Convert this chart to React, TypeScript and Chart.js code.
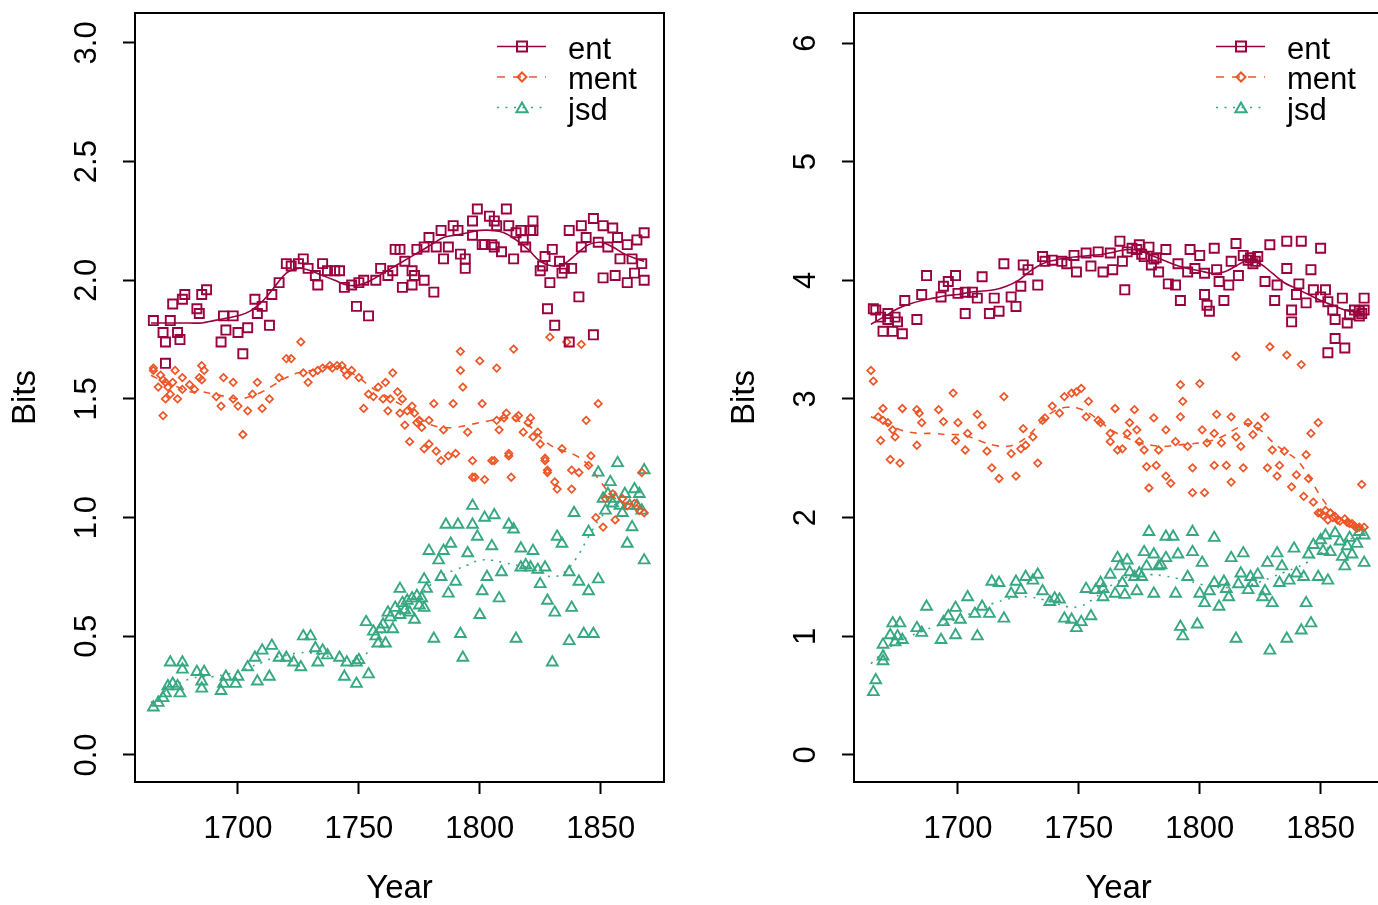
import React, { useEffect, useRef } from 'react';
import { Chart, registerables } from 'chart.js';

Chart.register(...registerables);

const FONT = "'Liberation Sans', Arial, Helvetica, sans-serif";

// ---- series styling ----
const SERIES = ['ent', 'ment', 'jsd'];
const SERIES_COLORS = ['#99013F', '#EE5526', '#36A882'];
const POINT_STYLES = ['rect', 'rectRot', 'triangle'];
const POINT_RADII = [6.4, 3.7, 6.2];
const LINE_DASHES = [[], [7, 7], [2, 6.5]];
const LEGEND_DASHES = [[], [8, 8], [2, 6.5]];

// ---- axes ----
const X_TICKS = [1700, 1750, 1800, 1850];
const LEFT_Y_TICKS = [0, 0.5, 1, 1.5, 2, 2.5, 3];
const RIGHT_Y_TICKS = [0, 1, 2, 3, 4, 5, 6];

type Pair = [number, number];

// ---- left panel points (year, bits) ----
const LEFT_ENT: Pair[] = [
  [1665,1.83],[1669,1.78],[1670,1.74],[1670,1.65],[1672,1.83],[1673,1.90],[1675,1.78],[1676,1.75],[1677,1.92],[1678,1.94],
  [1683,1.88],[1684,1.86],[1685,1.94],[1687,1.96],[1693,1.74],[1694,1.85],[1695,1.79],[1698,1.85],[1700,1.78],[1702,1.69],
  [1704,1.80],[1707,1.92],[1708,1.86],[1710,1.89],[1713,1.81],[1714,1.94],[1717,1.99],[1720,2.07],[1722,2.06],[1725,2.07],
  [1727,2.09],[1729,2.05],[1732,2.02],[1733,1.98],[1735,2.07],[1737,2.04],[1740,2.04],[1742,2.04],[1744,1.97],[1747,1.98],
  [1749,1.89],[1750,1.99],[1752,2.00],[1754,1.85],[1757,2.00],[1759,2.05],[1762,2.02],[1764,2.04],[1765,2.13],[1767,2.13],
  [1768,1.97],[1769,2.08],[1772,1.98],[1772,2.04],[1773,2.02],[1774,2.13],[1777,2.14],[1777,2.00],[1779,2.18],[1781,1.95],
  [1782,2.14],[1784,2.21],[1785,2.09],[1787,2.14],[1789,2.23],[1791,2.21],[1792,2.11],[1794,2.05],[1794,2.09],[1797,2.25],
  [1797,2.19],[1799,2.30],[1801,2.15],[1802,2.15],[1804,2.27],[1805,2.15],[1806,2.25],[1806,2.14],[1807,2.23],[1809,2.12],
  [1811,2.30],[1812,2.23],[1814,2.09],[1815,2.20],[1817,2.21],[1818,2.17],[1819,2.14],[1821,2.21],[1822,2.25],[1822,2.21],
  [1825,2.04],[1826,2.06],[1827,2.10],[1828,1.88],[1829,1.99],[1830,2.13],[1831,1.81],[1833,2.08],[1834,2.03],[1835,2.05],
  [1837,2.21],[1837,1.74],[1838,2.05],[1841,1.93],[1842,2.14],[1842,2.23],[1844,2.18],[1847,1.77],[1847,2.26],[1849,2.16],
  [1851,2.23],[1851,2.01],[1853,2.14],[1855,2.22],[1856,2.02],[1857,2.18],[1858,2.09],[1861,2.15],[1861,1.99],[1863,2.09],
  [1864,2.03],[1865,2.17],[1867,2.07],[1868,2.00],[1868,2.20],
];
const LEFT_MENT: Pair[] = [
  [1665,1.63],[1665,1.62],[1667,1.55],[1668,1.60],[1669,1.58],[1670,1.57],[1670,1.50],[1669,1.43],[1671,1.55],[1672,1.52],
  [1673,1.57],[1674,1.62],[1675,1.50],[1677,1.59],[1677,1.54],[1680,1.56],[1682,1.54],[1684,1.59],[1685,1.64],[1686,1.62],
  [1685,1.58],[1691,1.51],[1693,1.47],[1694,1.59],[1698,1.57],[1698,1.50],[1700,1.47],[1702,1.35],[1704,1.45],[1706,1.52],
  [1708,1.57],[1710,1.46],[1713,1.50],[1717,1.59],[1720,1.67],[1722,1.67],[1726,1.74],[1727,1.61],[1729,1.57],[1731,1.61],
  [1733,1.62],[1735,1.63],[1738,1.64],[1739,1.63],[1741,1.64],[1743,1.64],[1744,1.62],[1745,1.60],[1747,1.62],[1750,1.59],
  [1752,1.46],[1754,1.52],[1756,1.51],[1758,1.55],[1760,1.50],[1761,1.57],[1762,1.45],[1764,1.61],[1763,1.50],[1766,1.53],
  [1767,1.44],[1768,1.50],[1769,1.39],[1770,1.45],[1771,1.32],[1772,1.47],[1773,1.44],[1774,1.40],[1775,1.41],[1776,1.38],
  [1777,1.29],[1779,1.41],[1779,1.31],[1781,1.48],[1782,1.28],[1784,1.24],[1785,1.37],[1787,1.26],[1789,1.48],[1790,1.27],
  [1792,1.70],[1792,1.62],[1793,1.55],[1795,1.36],[1797,1.24],[1797,1.17],[1798,1.17],[1800,1.66],[1801,1.48],[1802,1.16],
  [1805,1.24],[1806,1.24],[1807,1.41],[1807,1.63],[1808,1.37],[1810,1.42],[1811,1.44],[1812,1.27],[1812,1.26],[1813,1.17],
  [1814,1.71],[1815,1.42],[1816,1.43],[1818,1.36],[1820,1.40],[1821,1.42],[1822,1.34],[1824,1.36],[1825,1.31],[1827,1.25],
  [1827,1.24],[1828,1.19],[1828,1.20],[1829,1.76],[1831,1.15],[1832,1.12],[1834,1.29],[1836,1.74],[1838,1.20],[1838,1.12],
  [1841,1.19],[1842,1.73],[1844,1.41],[1845,1.22],[1846,1.26],[1848,1.00],[1849,1.48],[1851,0.96],[1852,1.08],[1855,1.10],
  [1856,0.99],[1859,1.08],[1861,1.05],[1864,1.06],[1866,1.03],[1867,1.19],[1868,1.02],
];
const LEFT_JSD: Pair[] = [
  [1665,0.20],[1667,0.22],[1669,0.24],[1670,0.26],[1671,0.29],[1672,0.39],[1673,0.30],[1675,0.29],[1677,0.39],[1677,0.36],
  [1676,0.26],[1683,0.35],[1685,0.28],[1686,0.35],[1685,0.31],[1693,0.27],[1694,0.30],[1695,0.33],[1699,0.30],[1700,0.33],
  [1704,0.37],[1707,0.41],[1708,0.31],[1710,0.44],[1713,0.33],[1714,0.46],[1717,0.41],[1720,0.41],[1723,0.39],[1726,0.37],
  [1727,0.50],[1730,0.50],[1732,0.45],[1733,0.39],[1735,0.44],[1737,0.42],[1742,0.41],[1744,0.33],[1745,0.39],[1749,0.39],
  [1749,0.30],[1750,0.40],[1754,0.34],[1753,0.56],[1756,0.52],[1757,0.50],[1758,0.47],[1759,0.53],[1760,0.55],[1761,0.47],
  [1762,0.60],[1763,0.58],[1764,0.53],[1765,0.62],[1767,0.70],[1767,0.59],[1768,0.64],[1769,0.61],[1770,0.65],[1771,0.60],
  [1772,0.66],[1773,0.57],[1774,0.67],[1775,0.63],[1776,0.66],[1777,0.62],[1777,0.74],[1778,0.70],[1779,0.86],[1781,0.49],
  [1783,0.82],[1784,0.75],[1785,0.86],[1786,0.97],[1787,0.68],[1788,0.89],[1790,0.73],[1791,0.97],[1792,0.51],[1793,0.41],
  [1795,0.85],[1797,1.05],[1797,0.97],[1799,0.92],[1800,0.59],[1801,0.69],[1803,0.75],[1802,1.00],[1806,1.01],[1805,0.88],
  [1808,0.66],[1809,0.77],[1812,0.97],[1814,0.95],[1815,0.49],[1817,0.79],[1817,0.87],[1819,0.80],[1821,0.79],[1822,0.86],
  [1824,0.78],[1825,0.72],[1827,0.79],[1828,0.65],[1830,0.39],[1831,0.60],[1832,0.92],[1834,0.89],[1837,0.77],[1837,0.48],
  [1838,0.62],[1839,1.02],[1841,0.73],[1843,0.51],[1845,0.94],[1847,0.51],[1845,0.69],[1849,0.74],[1849,1.19],[1851,1.08],
  [1852,1.03],[1853,1.10],[1854,1.15],[1855,1.06],[1856,1.08],[1857,1.23],[1858,1.05],[1859,1.02],[1860,1.10],[1861,0.89],
  [1862,1.05],[1863,0.96],[1864,1.12],[1865,1.05],[1866,1.10],[1867,1.03],[1868,0.82],[1868,1.20],
];

// ---- right panel points (year, bits) ----
const RIGHT_ENT: Pair[] = [
  [1665,3.76],[1666,3.75],[1668,3.69],[1669,3.57],[1671,3.67],[1671,3.72],[1673,3.57],[1674,3.69],[1675,3.65],[1677,3.55],
  [1678,3.83],[1683,3.67],[1685,3.88],[1687,4.04],[1693,3.86],[1694,3.95],[1696,3.99],[1699,4.04],[1700,3.89],[1703,3.72],
  [1703,3.90],[1706,3.90],[1708,3.85],[1710,4.03],[1713,3.72],[1715,3.85],[1717,3.74],[1719,4.14],[1722,3.86],[1724,3.78],
  [1726,3.95],[1727,4.13],[1729,4.09],[1733,3.96],[1735,4.20],[1736,4.16],[1739,4.17],[1743,4.16],[1745,4.14],[1748,4.21],
  [1749,4.07],[1753,4.23],[1755,4.12],[1758,4.24],[1760,4.07],[1763,4.23],[1764,4.09],[1767,4.33],[1769,3.92],[1768,4.16],
  [1770,4.24],[1772,4.27],[1774,4.26],[1775,4.30],[1776,4.22],[1777,4.20],[1779,4.28],[1780,4.13],[1781,4.18],[1782,4.19],
  [1783,4.07],[1786,4.26],[1787,3.97],[1790,3.96],[1791,4.14],[1792,3.83],[1795,4.07],[1796,4.26],[1798,4.10],[1800,4.21],
  [1802,4.06],[1802,3.88],[1803,3.79],[1804,3.74],[1806,4.27],[1807,4.09],[1808,3.99],[1810,3.83],[1812,3.96],[1813,4.16],
  [1815,4.31],[1816,4.04],[1818,4.21],[1820,4.17],[1821,4.19],[1822,4.14],[1823,4.16],[1824,4.20],[1827,3.99],[1829,4.30],
  [1831,3.83],[1832,3.96],[1836,4.10],[1836,4.33],[1838,3.65],[1838,3.75],[1842,4.33],[1840,3.88],[1841,3.97],[1844,3.81],
  [1846,4.09],[1847,3.92],[1850,3.86],[1850,4.27],[1852,3.92],[1853,3.82],[1855,3.75],[1856,3.67],[1856,3.51],[1853,3.39],
  [1859,3.85],[1860,3.43],[1861,3.64],[1862,3.71],[1864,3.75],[1866,3.74],[1866,3.70],[1867,3.72],[1868,3.85],[1868,3.75],
];
const RIGHT_MENT: Pair[] = [
  [1664,3.24],[1665,3.15],[1669,2.92],[1667,2.85],[1669,2.82],[1671,2.80],[1673,2.74],[1674,2.68],[1668,2.65],[1672,2.49],
  [1676,2.46],[1677,2.92],[1683,2.91],[1684,2.88],[1683,2.61],[1685,2.80],[1692,2.91],[1694,2.81],[1698,3.05],[1699,2.65],
  [1700,2.80],[1703,2.57],[1704,2.71],[1708,2.87],[1710,2.78],[1712,2.56],[1714,2.42],[1717,2.33],[1719,3.02],[1722,2.54],
  [1724,2.35],[1726,2.58],[1727,2.75],[1728,2.61],[1731,2.68],[1733,2.46],[1735,2.82],[1736,2.84],[1739,2.94],[1742,2.88],
  [1744,3.02],[1747,3.05],[1749,3.06],[1751,3.09],[1753,2.85],[1754,2.98],[1758,2.82],[1759,2.80],[1763,2.71],[1763,2.64],
  [1765,2.92],[1766,2.57],[1768,2.58],[1770,2.71],[1771,2.80],[1773,2.91],[1774,2.74],[1775,2.64],[1777,2.57],[1778,2.43],
  [1779,2.25],[1781,2.84],[1782,2.44],[1783,2.57],[1786,2.35],[1786,2.74],[1788,2.29],[1790,2.64],[1792,2.85],[1792,3.12],
  [1793,2.98],[1795,2.60],[1797,2.42],[1797,2.21],[1800,3.13],[1801,2.74],[1802,2.21],[1803,2.63],[1806,2.44],[1806,2.71],
  [1807,2.87],[1809,2.63],[1811,2.44],[1813,2.30],[1813,2.85],[1815,3.36],[1815,2.68],[1817,2.60],[1818,2.42],[1820,2.80],
  [1822,2.70],[1824,2.77],[1827,2.85],[1828,2.42],[1829,3.44],[1830,2.57],[1832,2.35],[1833,2.44],[1835,2.56],[1836,3.37],
  [1838,2.26],[1840,2.36],[1842,3.29],[1843,2.18],[1844,2.53],[1845,2.33],[1846,2.71],[1847,2.13],[1849,2.80],[1849,2.04],
  [1850,2.04],[1851,2.02],[1852,2.06],[1853,1.98],[1854,2.04],[1855,2.00],[1856,2.01],[1857,1.98],[1858,1.97],[1860,1.99],
  [1861,1.96],[1862,1.95],[1863,1.95],[1864,1.93],[1865,1.91],[1866,1.92],[1867,2.28],[1868,1.92],
];
const RIGHT_JSD: Pair[] = [
  [1665,0.53],[1666,0.63],[1669,0.79],[1669,0.83],[1669,0.93],[1672,1.01],[1674,0.95],[1673,1.11],[1676,1.11],[1675,1.00],
  [1677,0.97],[1683,1.07],[1685,1.03],[1687,1.25],[1693,0.97],[1694,1.12],[1696,1.17],[1699,1.01],[1699,1.24],[1701,1.14],
  [1704,1.33],[1707,1.19],[1708,1.00],[1710,1.25],[1713,1.19],[1714,1.46],[1717,1.45],[1719,1.15],[1722,1.36],[1724,1.46],
  [1726,1.39],[1728,1.50],[1731,1.47],[1733,1.52],[1735,1.38],[1738,1.29],[1740,1.32],[1742,1.31],[1744,1.15],[1747,1.14],
  [1749,1.07],[1751,1.12],[1755,1.17],[1753,1.40],[1757,1.39],[1759,1.45],[1760,1.33],[1760,1.40],[1763,1.52],[1765,1.36],
  [1766,1.66],[1767,1.59],[1768,1.45],[1769,1.35],[1770,1.64],[1771,1.54],[1773,1.50],[1774,1.38],[1775,1.53],[1776,1.50],
  [1777,1.71],[1778,1.59],[1779,1.88],[1781,1.36],[1781,1.69],[1783,1.59],[1784,1.60],[1786,1.84],[1786,1.66],[1789,1.84],
  [1790,1.36],[1791,1.69],[1792,1.08],[1793,1.00],[1795,1.50],[1797,1.71],[1797,1.88],[1799,1.10],[1800,1.36],[1801,1.62],
  [1802,1.28],[1804,1.38],[1806,1.83],[1806,1.45],[1808,1.25],[1810,1.46],[1811,1.40],[1812,1.33],[1813,1.66],[1815,0.98],
  [1816,1.44],[1817,1.53],[1818,1.70],[1820,1.39],[1821,1.50],[1822,1.45],[1824,1.52],[1826,1.33],[1827,1.38],[1828,1.62],
  [1829,0.88],[1830,1.28],[1832,1.70],[1833,1.45],[1834,1.59],[1836,0.98],[1837,1.47],[1839,1.74],[1840,1.53],[1842,1.05],
  [1843,1.50],[1844,1.28],[1846,1.11],[1845,1.69],[1847,1.77],[1849,1.50],[1850,1.81],[1851,1.72],[1853,1.47],[1852,1.85],
  [1854,1.71],[1856,1.87],[1858,1.80],[1859,1.67],[1860,1.59],[1861,1.76],[1862,1.83],[1863,1.69],[1865,1.78],[1866,1.88],
  [1868,1.62],[1868,1.85],
];

// ---- smoothed trend lines, read at these years ----
const LINE_YEARS = [1664,1670,1675,1680,1685,1690,1695,1700,1705,1710,1715,1720,1725,1730,1735,1740,1745,1750,1755,1760,
  1765,1770,1775,1780,1785,1790,1795,1800,1805,1810,1815,1820,1825,1830,1835,1840,1845,1850,1855,1860,1865,1868];
const LEFT_ENT_LINE = [1.82,1.82,1.82,1.82,1.82,1.83,1.84,1.85,1.87,1.91,1.97,2.03,2.05,2.04,2.02,2.00,1.98,1.98,2.00,2.03,
  2.06,2.09,2.12,2.15,2.18,2.19,2.20,2.21,2.21,2.20,2.17,2.13,2.08,2.06,2.07,2.11,2.15,2.16,2.14,2.11,2.09,2.08];
const LEFT_MENT_LINE = [1.60,1.57,1.55,1.53,1.53,1.52,1.51,1.50,1.51,1.53,1.56,1.59,1.61,1.62,1.63,1.64,1.62,1.59,1.55,1.52,
  1.49,1.46,1.42,1.39,1.38,1.38,1.39,1.40,1.41,1.42,1.41,1.39,1.34,1.30,1.28,1.26,1.22,1.15,1.09,1.06,1.05,1.04];
const LEFT_JSD_LINE = [0.22,0.27,0.30,0.32,0.33,0.33,0.34,0.35,0.37,0.39,0.41,0.42,0.43,0.43,0.42,0.41,0.40,0.40,0.45,0.52,
  0.57,0.62,0.67,0.72,0.76,0.78,0.80,0.82,0.82,0.81,0.80,0.79,0.77,0.75,0.77,0.83,0.92,1.00,1.05,1.06,1.05,1.05];
const RIGHT_ENT_LINE = [3.63,3.70,3.76,3.80,3.83,3.85,3.87,3.88,3.90,3.91,3.92,3.95,4.00,4.08,4.14,4.17,4.19,4.20,4.21,4.22,
  4.24,4.26,4.25,4.21,4.17,4.13,4.10,4.08,4.06,4.07,4.12,4.17,4.14,4.06,3.98,3.93,3.88,3.83,3.79,3.75,3.73,3.72];
const RIGHT_MENT_LINE = [2.85,2.80,2.75,2.72,2.71,2.71,2.70,2.70,2.68,2.64,2.61,2.60,2.63,2.71,2.82,2.90,2.93,2.92,2.87,2.79,
  2.72,2.67,2.63,2.61,2.60,2.61,2.62,2.63,2.65,2.69,2.75,2.79,2.74,2.64,2.56,2.49,2.35,2.18,2.05,1.97,1.93,1.91];
const RIGHT_JSD_LINE = [0.77,0.88,0.95,1.00,1.04,1.08,1.11,1.15,1.19,1.24,1.28,1.31,1.33,1.33,1.31,1.28,1.25,1.25,1.30,1.38,
  1.45,1.50,1.52,1.52,1.51,1.49,1.47,1.44,1.42,1.41,1.42,1.43,1.46,1.50,1.54,1.58,1.63,1.70,1.77,1.81,1.83,1.84];

// ---- frame (box) + R-style legend inside plot area ----
function drawMarker(ctx: CanvasRenderingContext2D, style: string, x: number, y: number, r: number) {
  ctx.beginPath();
  if (style === 'rect') {
    ctx.rect(x - r, y - r, 2 * r, 2 * r);
  } else if (style === 'rectRot') {
    ctx.moveTo(x - r, y);
    ctx.lineTo(x, y - r);
    ctx.lineTo(x + r, y);
    ctx.lineTo(x, y + r);
    ctx.closePath();
  } else {
    for (let k = 0; k < 3; k++) {
      const a = (k * 2 * Math.PI) / 3;
      const px = x + Math.sin(a) * r;
      const py = y - Math.cos(a) * r;
      if (k === 0) ctx.moveTo(px, py);
      else ctx.lineTo(px, py);
    }
    ctx.closePath();
  }
  ctx.stroke();
}

const frameLegendPlugin = {
  id: 'frameLegend',
  afterDraw(chart: any) {
    const { ctx, chartArea: a } = chart;
    ctx.save();
    ctx.strokeStyle = '#000';
    ctx.lineWidth = 2;
    ctx.setLineDash([]);
    ctx.strokeRect(a.left, a.top, a.right - a.left, a.bottom - a.top);

    const legendMarkerR = [5, 4.5, 6.5];
    SERIES.forEach((label, i) => {
      const cy = a.top + 33.5 + i * 30.5;
      ctx.strokeStyle = SERIES_COLORS[i];
      ctx.lineWidth = 1.7;
      ctx.setLineDash(LEGEND_DASHES[i]);
      ctx.beginPath();
      ctx.moveTo(a.right - 167, cy);
      ctx.lineTo(a.right - 118, cy);
      ctx.stroke();
      ctx.setLineDash([]);
      ctx.lineWidth = 2;
      const my = POINT_STYLES[i] === 'triangle' ? cy + 1.5 : cy;
      drawMarker(ctx, POINT_STYLES[i], a.right - 142, my, legendMarkerR[i]);
      ctx.fillStyle = '#000';
      ctx.font = `31px ${FONT}`;
      ctx.textAlign = 'left';
      ctx.textBaseline = 'alphabetic';
      ctx.fillText(label, a.right - 96, cy + 12);
    });
    ctx.restore();
  },
};

interface PanelSpec {
  points: Pair[][];
  lines: number[][];
  yTicks: number[];
  yMin: number;
  yMax: number;
  xMin: number;
  xMax: number;
  decimals: number;
  yTickPadding: number;
}

function buildConfig(spec: PanelSpec): any {
  const scatterSets = spec.points.map((pairs, i) => ({
    label: SERIES[i],
    data: pairs.map(([x, y]) => ({ x, y })),
    showLine: false,
    pointStyle: POINT_STYLES[i],
    pointRadius: POINT_RADII[i],
    pointBorderWidth: i === 1 ? 1.7 : 1.9,
    pointBorderColor: SERIES_COLORS[i],
    pointBackgroundColor: 'rgba(0,0,0,0)',
    borderColor: SERIES_COLORS[i],
  }));
  const lineSets = spec.lines.map((vals, i) => ({
    label: SERIES[i] + ' trend',
    data: LINE_YEARS.map((x, k) => ({ x, y: vals[k] })),
    showLine: true,
    pointRadius: 0,
    borderColor: SERIES_COLORS[i],
    borderWidth: 1.6,
    borderDash: LINE_DASHES[i],
    tension: 0.4,
    fill: false,
  }));
  const tickFont = { family: FONT, size: 31, lineHeight: 1.2 };
  const titleFont = { family: FONT, size: 33, lineHeight: 1 };
  const gridOpts = {
    display: true,
    drawOnChartArea: false,
    drawTicks: true,
    tickLength: 12,
    tickWidth: 2,
    tickColor: '#000',
  };
  return {
    type: 'scatter',
    data: { datasets: [...scatterSets, ...lineSets] },
    plugins: [frameLegendPlugin],
    options: {
      responsive: false,
      animation: false,
      devicePixelRatio: 1,
      events: [],
      layout: { padding: { left: 0, top: 13, right: 36, bottom: 0 } },
      plugins: { legend: { display: false }, tooltip: { enabled: false } },
      scales: {
        x: {
          type: 'linear',
          min: spec.xMin,
          max: spec.xMax,
          afterBuildTicks: (s: any) => {
            s.ticks = X_TICKS.map((v) => ({ value: v }));
          },
          afterFit: (s: any) => {
            s.height = 123;
            s.paddingLeft = 0;
            s.paddingRight = 0;
          },
          grid: gridOpts,
          border: { display: false },
          ticks: {
            autoSkip: false,
            minRotation: 0,
            maxRotation: 0,
            padding: 17,
            color: '#000',
            font: tickFont,
            callback: (v: number) => String(v),
          },
          title: {
            display: true,
            text: 'Year',
            color: '#000',
            font: titleFont,
            padding: { top: 0, bottom: 0 },
          },
        },
        y: {
          type: 'linear',
          min: spec.yMin,
          max: spec.yMax,
          afterBuildTicks: (s: any) => {
            s.ticks = spec.yTicks.map((v) => ({ value: v }));
          },
          afterFit: (s: any) => {
            s.width = 135;
            s.paddingTop = 0;
            s.paddingBottom = 0;
          },
          grid: gridOpts,
          border: { display: false },
          ticks: {
            autoSkip: false,
            minRotation: 90,
            maxRotation: 90,
            crossAlign: 'center',
            padding: spec.yTickPadding,
            color: '#000',
            font: tickFont,
            callback: (v: number) => v.toFixed(spec.decimals),
          },
          title: {
            display: true,
            text: 'Bits',
            color: '#000',
            font: titleFont,
            padding: { top: 9.5, bottom: 0 },
          },
        },
      },
    },
  };
}

const LEFT_SPEC: PanelSpec = {
  points: [LEFT_ENT, LEFT_MENT, LEFT_JSD],
  lines: [LEFT_ENT_LINE, LEFT_MENT_LINE, LEFT_JSD_LINE],
  yTicks: LEFT_Y_TICKS,
  yMin: -0.114,
  yMax: 3.126,
  xMin: 1657.4,
  xMax: 1876.2,
  decimals: 1,
  yTickPadding: 14,
};

const RIGHT_SPEC: PanelSpec = {
  points: [RIGHT_ENT, RIGHT_MENT, RIGHT_JSD],
  lines: [RIGHT_ENT_LINE, RIGHT_MENT_LINE, RIGHT_JSD_LINE],
  yTicks: RIGHT_Y_TICKS,
  yMin: -0.228,
  yMax: 6.253,
  xMin: 1657.0,
  xMax: 1875.8,
  decimals: 0,
  yTickPadding: 27,
};

function Panel({ spec, left }: { spec: PanelSpec; left: number }) {
  const ref = useRef<HTMLCanvasElement | null>(null);
  useEffect(() => {
    if (!ref.current) return;
    const chart = new Chart(ref.current, buildConfig(spec));
    return () => chart.destroy();
  }, [spec]);
  return (
    <canvas
      ref={ref}
      width={700}
      height={905}
      style={{ position: 'absolute', left, top: 0, width: 700, height: 905 }}
    />
  );
}

export default function App() {
  return (
    <div
      style={{
        position: 'absolute',
        left: 0,
        top: 0,
        width: 1378,
        height: 905,
        overflow: 'hidden',
        background: '#fff',
      }}
    >
      <Panel spec={LEFT_SPEC} left={0} />
      <Panel spec={RIGHT_SPEC} left={719} />
    </div>
  );
}
